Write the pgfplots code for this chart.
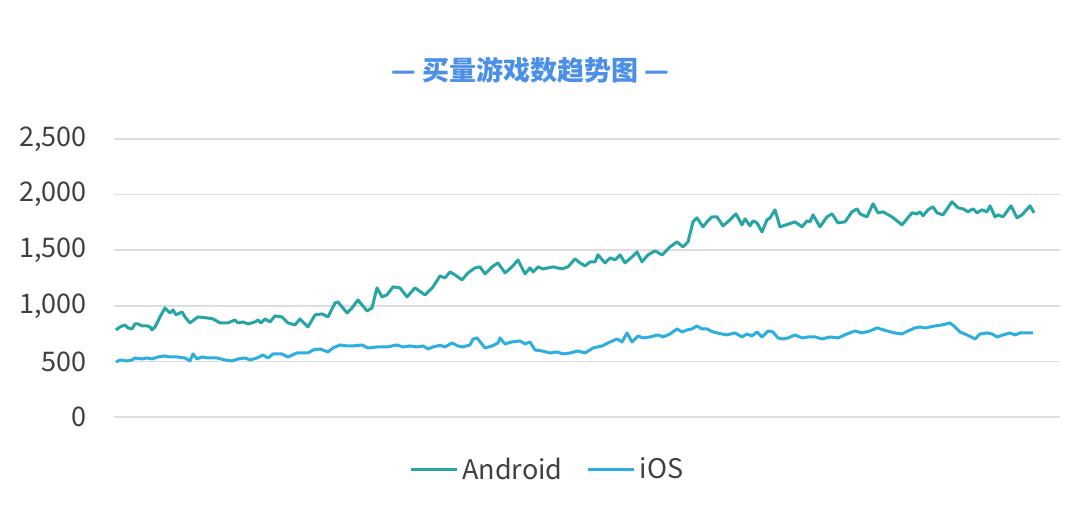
\documentclass[border=0pt]{standalone}
\usepackage{fontspec}
\setmainfont{Noto Sans CJK SC}
\usepackage{pgfplots}
\usepackage{pgfplotstable}
\pgfplotsset{compat=1.18}
\usetikzlibrary{calc}
\definecolor{androidc}{HTML}{27A5A6}
\definecolor{iosc}{HTML}{2CAFE0}
\definecolor{titleblue}{HTML}{4A8FE8}
\definecolor{gridc}{HTML}{DDDDDD}
\definecolor{tickc}{HTML}{404040}

\pgfplotstableread{
x y
116 783
120 810
125 828
128 801
132 792
135 837
138 837
142 819
147 819
150 810
152 783
155 810
160 900
165 981
170 936
173 963
176 918
182 945
185 900
190 846
198 900
207 891
213 882
220 846
228 846
235 873
238 846
243 855
248 837
255 855
258 873
261 846
265 882
270 855
275 909
282 900
288 846
295 828
300 882
303 855
308 810
315 918
322 927
328 900
335 1026
338 1035
347 936
352 981
358 1053
367 954
372 981
377 1161
382 1080
387 1098
393 1170
400 1161
407 1080
415 1161
425 1098
433 1170
440 1269
445 1251
450 1305
455 1278
462 1233
468 1296
475 1341
480 1350
485 1287
492 1350
498 1386
505 1296
512 1350
518 1413
525 1287
530 1341
533 1305
538 1350
543 1332
553 1350
562 1332
568 1350
575 1422
580 1386
585 1359
590 1395
595 1395
598 1458
605 1386
610 1431
615 1413
620 1458
625 1386
632 1440
637 1485
642 1395
648 1458
655 1494
662 1458
670 1530
677 1575
683 1530
688 1575
693 1755
697 1791
703 1710
707 1755
712 1800
717 1800
723 1719
730 1773
736 1827
742 1728
745 1782
750 1719
753 1764
757 1746
762 1665
767 1773
770 1791
775 1863
780 1710
792 1746
795 1755
802 1710
807 1764
810 1755
813 1818
820 1710
827 1800
832 1827
838 1746
845 1755
852 1845
857 1872
860 1827
867 1800
873 1917
878 1836
883 1845
892 1800
902 1728
912 1836
917 1827
920 1845
923 1809
928 1863
933 1890
937 1836
943 1818
952 1935
958 1881
963 1872
968 1845
973 1872
977 1836
982 1863
987 1845
990 1899
995 1800
998 1818
1003 1800
1011 1899
1017 1791
1022 1818
1030 1899
1034 1836
}\android

\pgfplotstableread{
x y
116 495
120 513
127 504
132 513
135 531
142 522
147 531
152 522
158 540
165 549
170 540
177 540
185 531
190 504
193 567
197 522
202 540
207 531
217 531
225 513
232 504
238 522
245 531
250 513
257 531
263 558
268 531
273 567
282 567
288 540
297 576
303 576
308 576
313 603
320 612
328 585
333 621
340 648
347 639
353 639
362 648
368 621
377 630
387 630
397 648
403 630
410 639
417 630
423 639
428 612
433 630
440 645
445 630
452 666
458 639
463 630
470 648
473 702
477 711
485 621
492 639
498 666
500 711
505 657
512 675
520 684
525 657
530 675
535 603
542 594
550 576
557 585
563 567
570 576
578 594
585 576
593 621
602 639
608 666
617 702
622 675
627 756
632 675
638 729
643 711
650 720
658 738
663 720
670 747
677 792
682 765
687 783
692 792
697 819
702 792
707 792
713 765
720 750
727 738
735 756
742 720
747 747
752 729
757 765
762 720
768 774
773 765
778 711
783 702
788 711
795 738
802 711
808 720
815 720
822 702
830 720
838 711
847 747
855 774
862 756
870 774
877 801
887 774
895 756
902 747
908 774
915 801
920 810
925 801
930 810
935 819
942 828
950 846
955 810
960 765
967 738
975 702
980 747
987 756
992 747
997 720
1003 738
1010 756
1015 738
1020 756
1027 756
1033 756
}\ios

\begin{document}
\begin{tikzpicture}
\begin{axis}[
  scale only axis,
  width=473pt, height=139pt,
  xmin=114, xmax=1060,
  ymin=0, ymax=2500,
  ytick={0,500,1000,1500,2000,2500},
  xtick=\empty,
  axis line style={draw=none},
  major tick length=0pt,
  ymajorgrids,
  grid style={gridc, line width=0.8pt},
  clip=false,
  font=\fontsize{13.5pt}{16pt}\selectfont,
  yticklabel style={text=tickc, anchor=east, xshift=-10pt},
  /pgf/number format/assume math mode=true,
  /pgf/number format/.cd, 1000 sep={,},
  /pgfplots/.cd,
  legend columns=2,
  legend style={at={(0.459,-0.19)}, anchor=center, draw=none, fill=none,
    text=tickc, font=\fontsize{13.5pt}{16pt}\selectfont,
    /tikz/every even column/.append style={column sep=10pt},
    inner sep=0pt},
  legend image code/.code={\draw[#1] (0pt,0pt) -- (23pt,0pt);},
]
\addplot[androidc, line width=1.5pt, line join=round] table[x=x,y=y] {\android};
\addlegendentry{Android}
\addplot[iosc, line width=1.5pt, line join=round] table[x=x,y=y] {\ios};
\addlegendentry{iOS}
\coordinate (ll) at (rel axis cs:0,0);
\coordinate (ur) at (rel axis cs:1,1);
\node[yshift=34.5pt, text=titleblue, font=\fontsize{13.5pt}{16pt}\selectfont\bfseries] at (rel axis cs:0.44,1) {— 买量游戏数趋势图 —};
\end{axis}
\pgfresetboundingbox
\path[use as bounding box] ($(ll)+(-57pt,-43.5pt)$) rectangle ($(ur)+(10pt,69.5pt)$);
\end{tikzpicture}
\end{document}
